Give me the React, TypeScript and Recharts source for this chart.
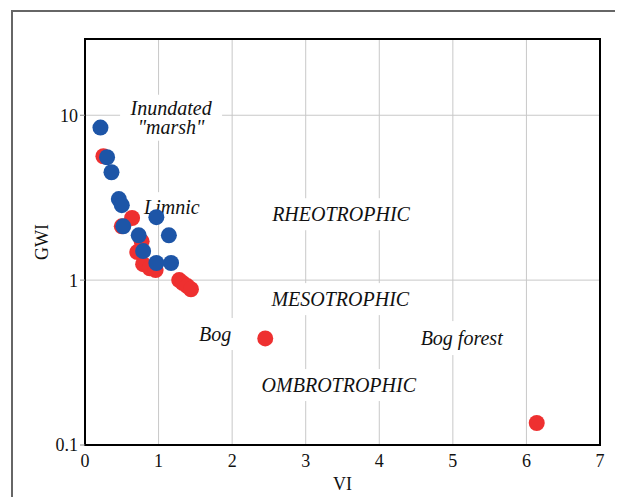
import { ScatterChart, Scatter, XAxis, YAxis, CartesianGrid, ReferenceDot, ReferenceArea, Label } from 'recharts';

// VI / GWI readings
const redVI = [0.25, 0.64, 0.5, 0.77, 0.71, 0.79, 0.88, 0.96, 1.28, 1.33, 1.39, 1.44, 2.45, 6.14];
const redGWI = [5.64, 2.38, 2.12, 1.72, 1.48, 1.25, 1.18, 1.15, 1.0, 0.96, 0.92, 0.88, 0.443, 0.136];
const blueVI = [0.21, 0.3, 0.36, 0.46, 0.5, 0.52, 0.97, 0.73, 1.14, 0.79, 0.97, 1.17];
const blueGWI = [8.42, 5.56, 4.51, 3.1, 2.85, 2.12, 2.41, 1.87, 1.87, 1.5, 1.27, 1.27];

const xTicks = [0, 1, 2, 3, 4, 5, 6, 7];
const yTicks = [0.1, 1, 10];

const zoneLabels = [
    { lines: ['Inundated', '"marsh"'], x: 1.17, y: 9.66, w: 102, h: 46 },
    { lines: ['Limnic'], x: 1.18, y: 2.77, w: 66, h: 30 },
    { lines: ['RHEOTROPHIC'], x: 3.48, y: 2.51, w: 160, h: 32 },
    { lines: ['MESOTROPHIC'], x: 3.47, y: 0.767, w: 160, h: 32 },
    { lines: ['Bog'], x: 1.77, y: 0.471, w: 40, h: 32 },
    { lines: ['Bog forest'], x: 5.12, y: 0.445, w: 100, h: 34 },
    { lines: ['OMBROTROPHIC'], x: 3.45, y: 0.231, w: 175, h: 32 },
];

const red = redVI.map((v, i) => ({ vi: v, gwi: redGWI[i] }));
const blue = blueVI.map((v, i) => ({ vi: v, gwi: blueGWI[i] }));

const FONT = '"Liberation Serif", "Times New Roman", serif';

const dot = (color: string) => (p: any) => <circle cx={p.cx} cy={p.cy} r={8} fill={color} />;

const zoneShape = (lines: string[], w: number, h: number) => (p: any) => {
    const lh = 19;
    const first = p.cy - ((lines.length - 1) * lh) / 2 + 7;
    return (
        <g>
            <rect x={p.cx - w / 2} y={p.cy - h / 2} width={w} height={h} fill="#fff" />
            {lines.map((t, i) => (
                <text key={i} x={p.cx} y={first + i * lh} textAnchor="middle" fontFamily={FONT} fontStyle="italic" fontSize={20} fill="#111">
                    {t}
                </text>
            ))}
        </g>
    );
};

export default function App() {
    return (
        <div style={{ position: 'relative', width: 607, height: 489 }}>
            <div style={{ position: 'absolute', left: 3, top: 2, width: 603, height: 520, border: '2px solid #666' }} />
            <div style={{ position: 'absolute', left: -8, top: -8 }}>
                <ScatterChart width={623} height={497} margin={{ top: 39, right: 23, bottom: 7, left: 0 }}>
                    <CartesianGrid stroke="#c8c8c8" strokeWidth={1} />
                    <XAxis
                        type="number"
                        dataKey="vi"
                        domain={[0, 7]}
                        ticks={xTicks}
                        height={45}
                        tickLine={false}
                        tickSize={6}
                        tickMargin={3}
                        axisLine={{ stroke: '#000', strokeWidth: 2 }}
                        tick={{ fill: '#111', fontSize: 18, fontFamily: FONT }}
                    >
                        <Label value="VI" position="insideBottom" offset={0} style={{ fill: '#111', fontSize: 18, fontFamily: FONT }} />
                    </XAxis>
                    <YAxis
                        type="number"
                        dataKey="gwi"
                        scale="log"
                        domain={[0.1, 29]}
                        ticks={yTicks}
                        allowDataOverflow
                        width={85}
                        tickSize={5}
                        tickMargin={2}
                        tickLine={{ stroke: '#888' }}
                        axisLine={{ stroke: '#000', strokeWidth: 2 }}
                        tick={{ fill: '#111', fontSize: 18, fontFamily: FONT }}
                        tickFormatter={(v: number) => String(v)}
                    >
                        <Label value="GWI" angle={-90} position="center" dx={-1} style={{ fill: '#111', fontSize: 18, fontFamily: FONT, textAnchor: 'middle' }} />
                    </YAxis>
                    {zoneLabels.map((z, i) => (
                        <ReferenceDot key={i} x={z.x} y={z.y} r={1} shape={zoneShape(z.lines, z.w, z.h)} />
                    ))}
                    <ReferenceArea x1={0} x2={7} y1={0.1} y2={29} fill="none" stroke="#000" strokeWidth={2} />
                    <Scatter data={red} fill="#ee3030" shape={dot('#ee3030')} isAnimationActive={false} />
                    <Scatter data={blue} fill="#1d55a7" shape={dot('#1d55a7')} isAnimationActive={false} />
                </ScatterChart>
            </div>
        </div>
    );
}
